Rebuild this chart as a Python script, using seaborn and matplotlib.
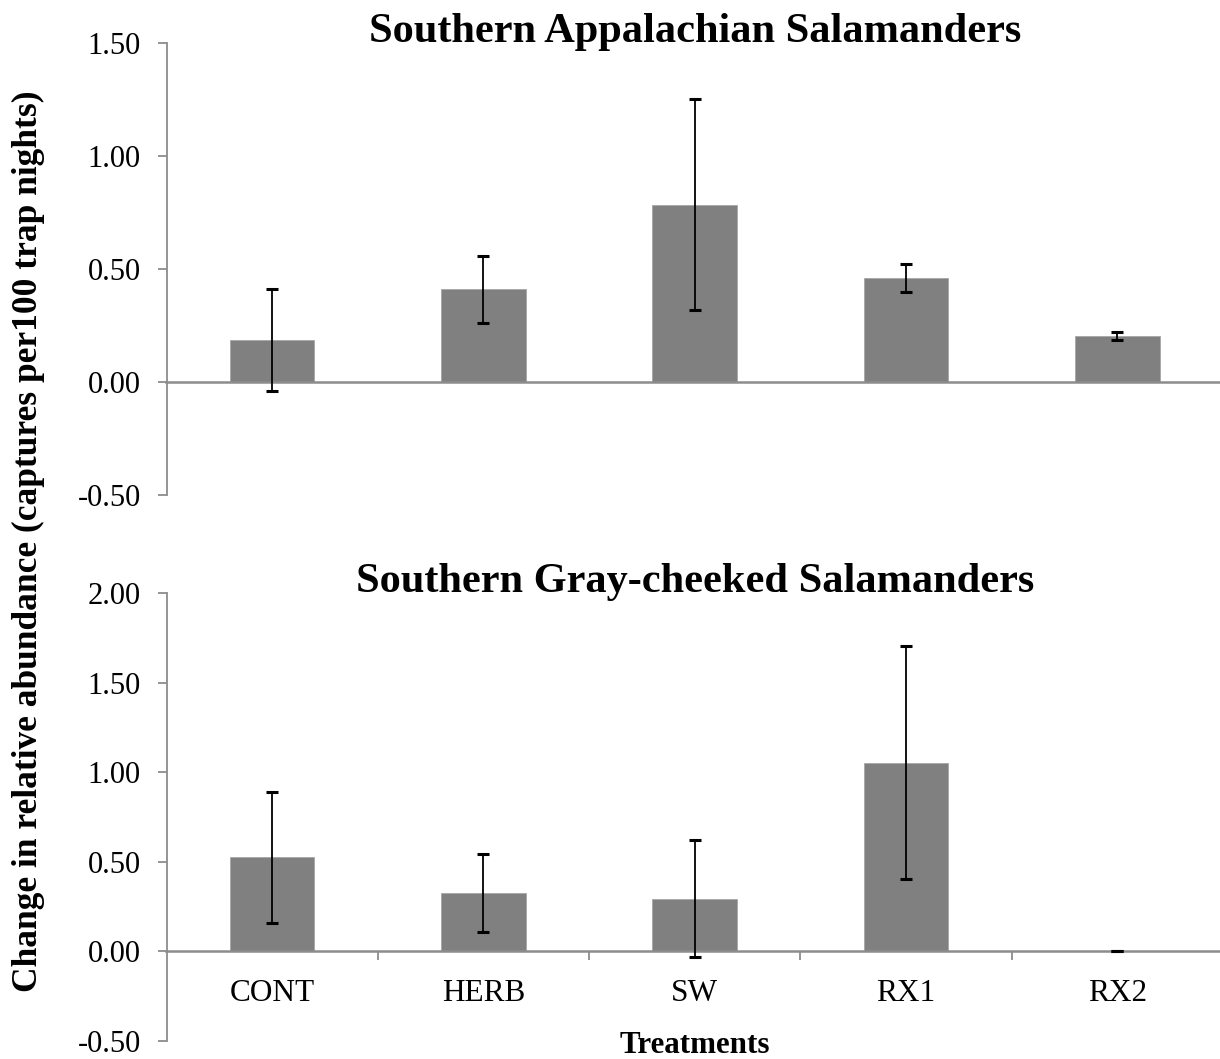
import numpy as np
import pandas as pd
import matplotlib
matplotlib.use("Agg")
import matplotlib.pyplot as plt
import seaborn as sns

# Treatment categories shared by both panels
treatments = ["CONT", "HERB", "SW", "RX1", "RX2"]

# Southern Appalachian salamanders: mean change and error
appalachian_mean = [0.186, 0.411, 0.785, 0.460, 0.205]
appalachian_err = [0.227, 0.148, 0.468, 0.063, 0.018]

# Southern Gray-cheeked salamanders: mean change and error
graycheek_mean = [0.525, 0.325, 0.293, 1.053, 0.0]
graycheek_err = [0.364, 0.218, 0.326, 0.650, 0.0]

top_ticks = [-0.5, 0.0, 0.5, 1.0, 1.5]
bottom_ticks = [-0.5, 0.0, 0.5, 1.0, 1.5, 2.0]

sns.set_style("white")
plt.rcParams["font.family"] = ["Liberation Serif", "DejaVu Serif"]
plt.rcParams["text.color"] = "black"
plt.rcParams["axes.labelcolor"] = "black"
plt.rcParams["xtick.color"] = "black"
plt.rcParams["ytick.color"] = "black"

W, H = 1220, 1059
fig = plt.figure(figsize=(W / 100, H / 100), dpi=100)

BAR = "#808080"
AXIS = "#8c8c8c"


def px_axes(left, top, right, bottom):
    return fig.add_axes([left / W, 1 - bottom / H, (right - left) / W, (bottom - top) / H])


def panel(ax, means, errs, ticks, show_labels):
    df = pd.DataFrame({"treatment": treatments, "value": means})
    sns.barplot(data=df, x="treatment", y="value", color=BAR, saturation=1,
                width=0.4, errorbar=None, ax=ax, edgecolor="#a6a6a6", linewidth=0.6)
    ax.errorbar(np.arange(len(treatments)), means, yerr=errs, fmt="none",
                ecolor="black", elinewidth=1.3, capsize=4, capthick=2.2, zorder=5)
    ax.set_xlim(-0.5, len(treatments) - 0.5)
    ax.set_ylim(ticks[0], ticks[-1])
    ax.set_yticks(ticks)
    ax.set_yticklabels([f"{t:.2f}" for t in ticks], fontsize=22)
    ax.set_xlabel("")
    ax.set_ylabel("")
    for s in ["top", "right"]:
        ax.spines[s].set_visible(False)
    ax.spines["left"].set_color(AXIS)
    ax.spines["left"].set_linewidth(1.3)
    ax.spines["bottom"].set_position(("data", 0))
    ax.spines["bottom"].set_color(AXIS)
    ax.spines["bottom"].set_linewidth(1.8)
    ax.spines["bottom"].set_zorder(1)
    ax.tick_params(axis="y", direction="out", length=6.5, width=1.3, color=AXIS,
                   left=True, pad=12, labelcolor="black")
    if show_labels:
        ax.set_xticks(np.arange(len(treatments)))
        ax.set_xticklabels(treatments, fontsize=22.5, color="black")
        ax.set_xticks(np.arange(len(treatments) - 1) + 0.5, minor=True)
        ax.tick_params(axis="x", which="major", length=0, pad=20, bottom=True)
        ax.tick_params(axis="x", which="minor", direction="out", length=6.5,
                       width=1.3, color=AXIS, bottom=True)
    else:
        ax.set_xticks([])
    ax.patch.set_alpha(0)


ax1 = px_axes(166.5, 43, 1223, 495)
panel(ax1, appalachian_mean, appalachian_err, top_ticks, False)

ax2 = px_axes(166.5, 593, 1223, 1041)
panel(ax2, graycheek_mean, graycheek_err, bottom_ticks, True)

cx = (166.5 + 1223) / 2 / W
fig.text(cx, 1 - 41.7 / H, "Southern Appalachian Salamanders", ha="center",
         va="baseline", fontsize=30.5, fontweight="bold", color="black")
fig.text(cx, 1 - 591.7 / H, "Southern Gray-cheeked Salamanders", ha="center",
         va="baseline", fontsize=30.5, fontweight="bold", color="black")
fig.text(694.5 / W, 1 - 1053.3 / H, "Treatments", ha="center", va="baseline",
         fontsize=22.3, fontweight="bold", color="black")
fig.text(28 / W, 1 - 541 / H,
         "Change in relative abundance (captures per100 trap nights)",
         rotation=90, ha="center", va="center", fontsize=25.5, fontweight="bold",
         color="black")

fig.savefig("out.png", dpi=100, facecolor="white")
